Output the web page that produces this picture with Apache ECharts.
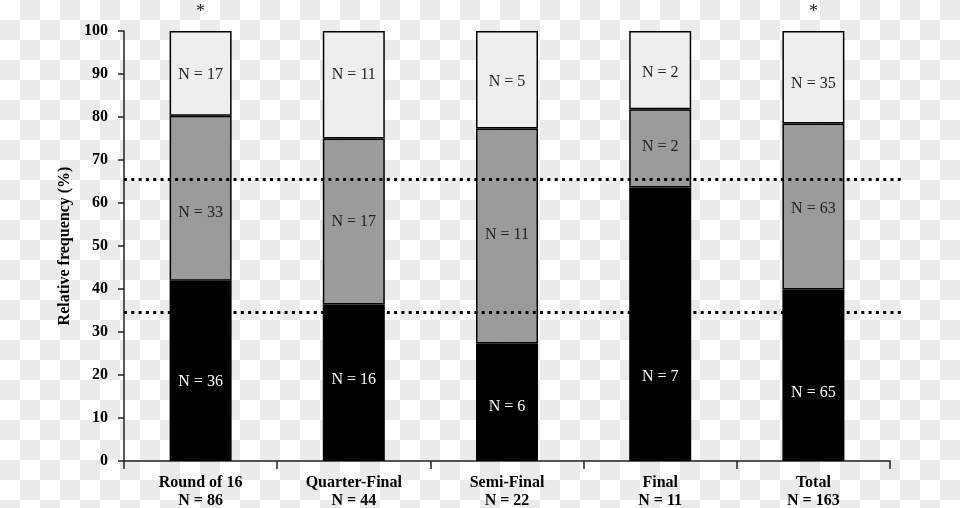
<!DOCTYPE html>
<html>
<head>
<meta charset="utf-8">
<script src="https://cdn.jsdelivr.net/npm/echarts@6/dist/echarts.min.js"></script>
<style>
html,body{margin:0;padding:0;}
body{width:960px;height:508px;background-color:#fff;background-image:repeating-conic-gradient(#ebebeb 0 25%, #fff 0 50%);background-size:40px 40px;background-position:0 0;}
#chart{width:960px;height:508px;}
</style>
</head>
<body>
<div id="chart"></div>
<script>
// Categories and totals
var categories = ['Round of 16', 'Quarter-Final', 'Semi-Final', 'Final', 'Total'];
var totals = [86, 44, 22, 11, 163];
// Counts shown in each segment
var countsBottom = [36, 16, 6, 7, 65];
var countsMiddle = [33, 17, 11, 2, 63];
var countsTop = [17, 11, 5, 2, 35];
// Relative frequency (%) of each segment
var pctBottom = [41.9, 36.4, 27.3, 63.6, 39.9];
var pctMiddle = [38.4, 38.6, 50.0, 18.2, 38.6];
var pctTop = [19.7, 25.0, 22.7, 18.2, 21.5];
// Significance markers
var markers = ['*', '', '', '', '*'];
// Reference (dotted) lines, %
var refLines = [65.5, 34.5];
// Y ticks
var yMin = 0, yMax = 100, yStep = 10;

// label vertical nudges (style only)
var nudgeBottom = [11, -3, 4, 53, 18];
var nudgeMiddle = [15, 0, -1, -2, 2];
var nudgeTop = [1, -10, 2, 3, 7];

var font = 'Liberation Serif';

function segData(vals, counts, nudges, color) {
  return vals.map(function (v, i) {
    return {
      value: v,
      label: { offset: [0, nudges[i]], formatter: 'N = ' + counts[i], color: color }
    };
  });
}

var chart = echarts.init(document.getElementById('chart'), null, { renderer: 'canvas' });
var segLabel = { show: true, position: 'inside', fontFamily: font, fontSize: 16 };
var border = { borderColor: '#000', borderWidth: 1.5 };

var option = {
  animation: false,
  backgroundColor: 'transparent',
  grid: [
    { left: 124, right: 70, top: 31, bottom: 47, containLabel: false, outerBoundsMode: 'none' },
    { left: 124, right: 58, top: 31, bottom: 47, containLabel: false, outerBoundsMode: 'none' }
  ],
  xAxis: [
    {
      type: 'category', gridIndex: 0, data: categories,
      axisLine: { lineStyle: { color: '#222', width: 1.5 } },
      axisTick: { show: true, length: 8, interval: 0, lineStyle: { color: '#222', width: 1.5 } },
      axisLabel: {
        interval: 0, margin: 13, fontFamily: font, fontWeight: 'bold', fontSize: 16, color: '#000', lineHeight: 18,
        formatter: function (v, i) { return v + '\nN = ' + totals[i]; }
      }
    },
    { type: 'value', gridIndex: 1, min: 0, max: 1, show: false }
  ],
  yAxis: [
    {
      type: 'value', gridIndex: 0, min: yMin, max: yMax, interval: yStep,
      name: 'Relative frequency (%)', nameLocation: 'middle', nameGap: 50,
      nameTextStyle: { fontFamily: font, fontWeight: 'bold', fontSize: 16, color: '#000' },
      axisLine: { show: true, lineStyle: { color: '#222', width: 1.5 } },
      axisTick: { show: true, length: 6, lineStyle: { color: '#222', width: 1.5 } },
      axisLabel: { margin: 16, fontFamily: font, fontWeight: 'bold', fontSize: 16, color: '#000' },
      splitLine: { show: false }
    },
    { type: 'value', gridIndex: 1, min: yMin, max: yMax, show: false }
  ],
  series: [
    {
      type: 'line', xAxisIndex: 1, yAxisIndex: 1, data: [], z: 1, silent: true,
      markLine: {
        silent: true, symbol: 'none', label: { show: false },
        lineStyle: { color: '#000', width: 3, type: [3, 4.3] },
        data: refLines.map(function (v) { return { yAxis: v }; })
      }
    },
    {
      type: 'bar', stack: 's', barWidth: 62, z: 3,
      itemStyle: Object.assign({ color: '#000' }, border),
      label: segLabel,
      data: segData(pctBottom, countsBottom, nudgeBottom, '#fff')
    },
    {
      type: 'bar', stack: 's', barWidth: 62, z: 3,
      itemStyle: Object.assign({ color: '#9b9b9b' }, border),
      label: segLabel,
      data: segData(pctMiddle, countsMiddle, nudgeMiddle, '#222')
    },
    {
      type: 'bar', stack: 's', barWidth: 62, z: 3,
      itemStyle: Object.assign({ color: '#eeeeee' }, border),
      label: segLabel,
      data: segData(pctTop, countsTop, nudgeTop, '#222')
    },
    {
      type: 'bar', stack: 's', barWidth: 62, z: 3, silent: true,
      itemStyle: { color: 'transparent' },
      label: {
        show: true, position: 'top', distance: 10, fontFamily: font, fontSize: 18, color: '#222',
        formatter: function (p) { return markers[p.dataIndex]; }
      },
      data: markers.map(function () { return 0; })
    }
  ]
};
chart.setOption(option);
</script>
</body>
</html>
